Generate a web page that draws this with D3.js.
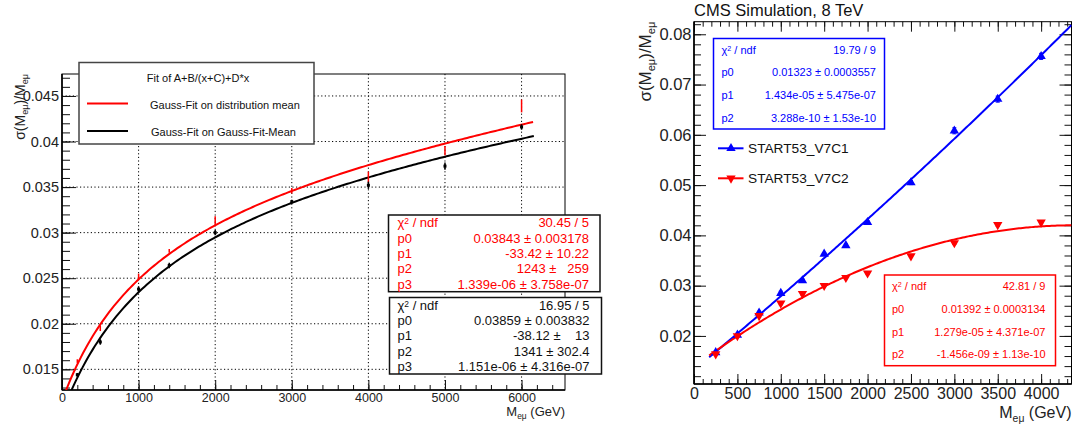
<!DOCTYPE html>
<html>
<head>
<meta charset="utf-8">
<script src="https://cdn.jsdelivr.net/npm/d3@7"></script>
<style>
  body { margin: 0; background: #fff; }
  svg text { font-family: "Liberation Sans", Arial, Helvetica, sans-serif; }
</style>
</head>
<body>
<svg id="chart" width="1073" height="425"></svg>
<script>
// ---------- left panel: resolution vs mass, two gauss-fit methods ----------
const massLeft = [200, 500, 1000, 1400, 2000, 3000, 4000, 5000, 6000];
const sigmaDistMean = [0.0159, 0.0195, 0.0252, 0.0280, 0.0313, 0.0346, 0.0361, 0.0390, 0.0439];
const errDistMean = [0.0002, 0.0003, 0.0003, 0.0002, 0.0005, 0.0003, 0.0006, 0.0005, 0.0007];
const sigmaGausMean = [0.0144, 0.0180, 0.0238, 0.0264, 0.0300, 0.0334, 0.0352, 0.0373, 0.0416];
const errGausMean = [0.0002, 0.0003, 0.0003, 0.0003, 0.0003, 0.0002, 0.0004, 0.0004, 0.0003];

// fit A+B/(x+C)+D*x, parameters as printed in the stat boxes
const fitDistMean = [0.03843, -33.42, 1243, 1.339e-06];
const fitGausMean = [0.03859, -38.12, 1341, 1.151e-06];
const statLabelsLeft = ['p0', 'p1', 'p2', 'p3'];
const statDistMean = ['30.45 / 5', '0.03843 ± 0.003178', '-33.42 ± 10.22', '1243 ±   259', '1.339e-06 ± 3.758e-07'];
const statGausMean = ['16.95 / 5', '0.03859 ± 0.003832', '-38.12 ±    13', '1341 ± 302.4', '1.151e-06 ± 4.316e-07'];
const legendLeft = ['Gauss-Fit on distribution mean', 'Gauss-Fit on Gauss-Fit-Mean'];

// ---------- right panel: START53_V7C1 vs START53_V7C2 ----------
const massRight = [250, 500, 750, 1000, 1250, 1500, 1750, 2000, 2500, 3000, 3500, 4000];
const sigmaV7C1 = [0.0167, 0.0202, 0.0246, 0.0285, 0.0310, 0.0363, 0.0380, 0.0426, 0.0505, 0.0608, 0.0671, 0.0756];
const errV7C1 = [0.0003, 0.0003, 0.0003, 0.0004, 0.0003, 0.0003, 0.0003, 0.0003, 0.0004, 0.0006, 0.0006, 0.0006];
const sigmaV7C2 = [0.0164, 0.0200, 0.0240, 0.0265, 0.0284, 0.0300, 0.0316, 0.0325, 0.0359, 0.0385, 0.0421, 0.0426];
const errV7C2 = [0.0002, 0.0002, 0.0003, 0.0003, 0.0003, 0.0002, 0.0002, 0.0003, 0.0003, 0.0003, 0.0003, 0.0003];

// fit p0 + p1*x + p2*x^2
const fitV7C1 = [0.01323, 1.434e-05, 3.288e-10];
const fitV7C2 = [0.01392, 1.279e-05, -1.456e-09];
const statLabelsRight = ['p0', 'p1', 'p2'];
const statV7C1 = ['19.79 / 9', '0.01323 ± 0.0003557', '1.434e-05 ± 5.475e-07', '3.288e-10 ± 1.53e-10'];
const statV7C2 = ['42.81 / 9', '0.01392 ± 0.0003134', '1.279e-05 ± 4.371e-07', '-1.456e-09 ± 1.13e-10'];
const legendRight = ['START53_V7C1', 'START53_V7C2'];

const RED = '#ff0000';
const BLUE = '#0000ff';

const svg = d3.select('#chart');

const makeScales = (p) => ({
  x: d3.scaleLinear().domain(p.xDomain).range([p.x0, p.x1]),
  y: d3.scaleLinear().domain(p.yDomain).range([p.y1, p.y0])
});

const drawAxes = (g, p, sx, sy, o) => {
  const strip = a => a.select('.domain').remove();
  const sides = o.allSides ? [[p.y1, d3.axisBottom], [p.y0, d3.axisTop]] : [[p.y1, d3.axisBottom]];
  sides.forEach(([yy, ax], k) => {
    g.append('g').attr('transform', `translate(0,${yy})`)
      .call(ax(sx).tickValues(o.xMinor).tickSize(-o.xMinorLen).tickFormat(''))
      .call(strip);
    const major = g.append('g').attr('transform', `translate(0,${yy})`)
      .call(ax(sx).tickValues(o.xMajor).tickSize(-o.xMajorLen).tickPadding(o.xPad)
        .tickFormat(k === 0 ? d3.format('d') : ''))
      .call(strip);
    major.selectAll('text').attr('font-family', null).style('font-size', o.xFont + 'px').attr('fill', '#222');
  });
  const vsides = o.allSides ? [[p.x0, d3.axisLeft], [p.x1, d3.axisRight]] : [[p.x0, d3.axisLeft]];
  vsides.forEach(([xx, ax], k) => {
    g.append('g').attr('transform', `translate(${xx},0)`)
      .call(ax(sy).tickValues(o.yMinor).tickSize(-o.yMinorLen).tickFormat(''))
      .call(strip);
    const major = g.append('g').attr('transform', `translate(${xx},0)`)
      .call(ax(sy).tickValues(o.yMajor).tickSize(-o.yMajorLen).tickPadding(o.yPad)
        .tickFormat(k === 0 ? (d => +d.toFixed(3) + '') : ''))
      .call(strip);
    major.selectAll('text').attr('font-family', null).style('font-size', o.yFont + 'px').attr('fill', '#222');
  });
  g.selectAll('.tick line').attr('stroke', '#111').attr('stroke-width', 1);
  // frame
  g.append('rect')
    .attr('x', p.x0).attr('y', p.y0)
    .attr('width', p.x1 - p.x0).attr('height', p.y1 - p.y0)
    .attr('fill', 'none').attr('stroke', '#000').attr('stroke-width', 1);
  g.append('line').attr('x1', p.x0).attr('x2', p.x0).attr('y1', p.y0).attr('y2', p.y1)
    .attr('stroke', '#000').attr('stroke-width', 1.6);
  g.append('line').attr('x1', p.x0).attr('x2', p.x1).attr('y1', p.y1).attr('y2', p.y1)
    .attr('stroke', '#000').attr('stroke-width', 1.6);
};

// text with subscript, e.g. sigma(M_emu)/M_emu
const massLabel = (t, withSigma) => {
  const sub = (s) => t.append('tspan').attr('baseline-shift', '-35%').style('font-size', '65%').text(s);
  if (withSigma) {
    t.append('tspan').text('σ(M');
    sub('eμ');
    t.append('tspan').text(')/M');
    sub('eμ');
  } else {
    t.append('tspan').text('M');
    sub('eμ');
    t.append('tspan').text(' (GeV)');
  }
};

const drawStatBox = (g, box, labels, values, color, fontSize, opts) => {
  g.append('rect')
    .attr('x', box.x).attr('y', box.y).attr('width', box.w).attr('height', box.h)
    .attr('fill', '#fff').attr('stroke', opts.stroke || color).attr('stroke-width', opts.sw || 1.5);
  const n = values.length;
  const rowH = box.h / n;
  values.forEach((v, i) => {
    const cy = box.y + (i + 0.5) * rowH;
    const lab = g.append('text')
      .attr('x', box.x + opts.padL).attr('y', cy).attr('dy', '0.36em')
      .attr('fill', color).style('font-size', fontSize + 'px');
    if (i === 0) {
      lab.append('tspan').text('χ');
      lab.append('tspan').attr('baseline-shift', '40%').style('font-size', '65%').text('2');
      lab.append('tspan').text(' / ndf');
    } else {
      lab.text(labels[i - 1]);
    }
    g.append('text')
      .attr('x', box.x + box.w - opts.padR).attr('y', cy).attr('dy', '0.36em')
      .attr('text-anchor', 'end').attr('fill', color)
      .style('font-size', fontSize + 'px').style('white-space', 'pre')
      .attr('xml:space', 'preserve')
      .text(v);
  });
};

const drawErrorPoints = (g, sx, sy, xs, ys, es, color, marker) => {
  xs.forEach((x, i) => {
    g.append('line')
      .attr('x1', sx(x)).attr('x2', sx(x))
      .attr('y1', sy(ys[i] - es[i])).attr('y2', sy(ys[i] + es[i]))
      .attr('stroke', color).attr('stroke-width', 1.5);
    if (marker === 'square') {
      g.append('rect').attr('x', sx(x) - 1.5).attr('y', sy(ys[i]) - 1.5)
        .attr('width', 3).attr('height', 3).attr('fill', color);
    } else if (marker === 'up' || marker === 'down') {
      [ys[i] - es[i], ys[i] + es[i]].forEach(v => {
        g.append('line')
          .attr('x1', sx(x) - 2).attr('x2', sx(x) + 2)
          .attr('y1', sy(v)).attr('y2', sy(v))
          .attr('stroke', color).attr('stroke-width', 1);
      });
      g.append('path')
        .attr('d', d3.symbol(d3.symbolTriangle).size(38)())
        .attr('transform', `translate(${sx(x)},${sy(ys[i])})${marker === 'down' ? 'rotate(180)' : ''}`)
        .attr('fill', color);
    }
  });
};

const drawFit = (g, sx, sy, f, range, color, clipId) => {
  const xs = d3.range(range[0], range[1] + 1, (range[1] - range[0]) / 200);
  g.append('path')
    .datum(xs)
    .attr('clip-path', `url(#${clipId})`)
    .attr('fill', 'none').attr('stroke', color).attr('stroke-width', 2)
    .attr('d', d3.line().x(d => sx(d)).y(d => sy(f(d))));
};

const addClip = (id, p) => {
  svg.append('clipPath').attr('id', id)
    .append('rect').attr('x', p.x0).attr('y', p.y0)
    .attr('width', p.x1 - p.x0).attr('height', p.y1 - p.y0);
};

// ================= LEFT PANEL =================
const pL = { x0: 62, x1: 565, y0: 74, y1: 390, xDomain: [0, 6567], yDomain: [0.01273, 0.04741] };
const sL = makeScales(pL);
const gL = svg.append('g');
addClip('clipL', pL);

// dotted grid
const xMajorL = d3.range(0, 6001, 1000);
const yMajorL = [0.015, 0.02, 0.025, 0.03, 0.035, 0.04, 0.045];
gL.append('g').selectAll('line').data(xMajorL.slice(1)).join('line')
  .attr('x1', d => sL.x(d)).attr('x2', d => sL.x(d)).attr('y1', pL.y0).attr('y2', pL.y1)
  .attr('stroke', '#000').attr('stroke-dasharray', '1.2,2.4').attr('stroke-width', 1);
gL.append('g').selectAll('line').data(yMajorL).join('line')
  .attr('x1', pL.x0).attr('x2', pL.x1).attr('y1', d => sL.y(d)).attr('y2', d => sL.y(d))
  .attr('stroke', '#000').attr('stroke-dasharray', '1.2,2.4').attr('stroke-width', 1);

drawAxes(gL, pL, sL.x, sL.y, {
  xMajor: xMajorL, xMinor: d3.range(0, 6567, 200), xMajorLen: 10, xMinorLen: 5, xPad: 3, xFont: 12.5,
  yMajor: yMajorL, yMinor: d3.range(13, 48).map(d => d / 1000), yMajorLen: 14, yMinorLen: 8, yPad: 3, yFont: 14.5
});

const fitFnL = q => x => q[0] + q[1] / (x + q[2]) + q[3] * x;
drawFit(gL, sL.x, sL.y, fitFnL(fitDistMean), [0, 6150], RED, 'clipL');
drawFit(gL, sL.x, sL.y, fitFnL(fitGausMean), [0, 6160], '#000', 'clipL');
drawErrorPoints(gL, sL.x, sL.y, massLeft, sigmaDistMean, errDistMean, RED, 'none');
drawErrorPoints(gL, sL.x, sL.y, massLeft, sigmaGausMean, errGausMean, '#000', 'square');

// axis titles
const yTitleL = gL.append('text')
  .attr('transform', `translate(25,${pL.y0}) rotate(-90)`)
  .attr('text-anchor', 'end').attr('fill', '#222').style('font-size', '14px');
massLabel(yTitleL, true);
const xTitleL = gL.append('text')
  .attr('x', pL.x1).attr('y', 416).attr('text-anchor', 'end')
  .attr('fill', '#222').style('font-size', '13px');
massLabel(xTitleL, false);

// legend box
const legL = gL.append('g');
legL.append('rect').attr('x', 79).attr('y', 62.5).attr('width', 235).attr('height', 81.5)
  .attr('fill', '#fff').attr('stroke', '#444').attr('stroke-width', 1.5);
legL.append('text').attr('x', 198).attr('y', 78).attr('dy', '0.36em').attr('text-anchor', 'middle')
  .attr('fill', '#111').style('font-size', '11px').text('Fit of A+B/(x+C)+D*x');
[[RED, 103.5], ['#000', 131]].forEach(([c, yy], i) => {
  legL.append('line').attr('x1', 87).attr('x2', 128).attr('y1', yy).attr('y2', yy)
    .attr('stroke', c).attr('stroke-width', 2);
  legL.append('text').attr('x', 150 + i).attr('y', yy + 1.5).attr('dy', '0.36em')
    .attr('fill', '#111').style('font-size', '11px').text(legendLeft[i]);
});

// stat boxes
drawStatBox(gL, { x: 388.5, y: 215, w: 211.5, h: 76.7 }, statLabelsLeft, statDistMean, RED, 13,
  { padL: 9, padR: 11, stroke: '#111', sw: 1.5 });
drawStatBox(gL, { x: 389.5, y: 297.5, w: 212, h: 76.5 }, statLabelsLeft, statGausMean, '#111', 13,
  { padL: 8, padR: 12, stroke: '#111', sw: 1.5 });

// ================= RIGHT PANEL =================
const pR = { x0: 694, x1: 1071.5, y0: 21.7, y1: 384, xDomain: [0, 4350], yDomain: [0.01044, 0.0825] };
const sR = makeScales(pR);
const gR = svg.append('g');
addClip('clipR', pR);

drawAxes(gR, pR, sR.x, sR.y, {
  allSides: true,
  xMajor: d3.range(0, 4001, 500), xMinor: d3.range(0, 4351, 100), xMajorLen: 10, xMinorLen: 5, xPad: 3.5, xFont: 16,
  yMajor: [0.02, 0.03, 0.04, 0.05, 0.06, 0.07, 0.08], yMinor: d3.range(6, 42).map(d => d / 500),
  yMajorLen: 12, yMinorLen: 7, yPad: 2.5, yFont: 16.5
});

const fitFnR = q => x => q[0] + q[1] * x + q[2] * x * x;
drawFit(gR, sR.x, sR.y, fitFnR(fitV7C1), [175, 4350], BLUE, 'clipR');
drawFit(gR, sR.x, sR.y, fitFnR(fitV7C2), [175, 4350], RED, 'clipR');
drawErrorPoints(gR, sR.x, sR.y, massRight, sigmaV7C1, errV7C1, BLUE, 'up');
drawErrorPoints(gR, sR.x, sR.y, massRight, sigmaV7C2, errV7C2, RED, 'down');

gR.append('text').attr('x', pR.x0).attr('y', 16).attr('fill', '#111')
  .style('font-size', '16.5px').text('CMS Simulation, 8 TeV');

const yTitleR = gR.append('text')
  .attr('transform', `translate(651,${pR.y0}) rotate(-90)`)
  .attr('text-anchor', 'end').attr('fill', '#222').style('font-size', '17px');
massLabel(yTitleR, true);
const xTitleR = gR.append('text')
  .attr('x', pR.x1).attr('y', 418).attr('text-anchor', 'end')
  .attr('fill', '#222').style('font-size', '16px');
massLabel(xTitleR, false);

drawStatBox(gR, { x: 713.5, y: 38.5, w: 171, h: 90.5 }, statLabelsRight, statV7C1, BLUE, 11,
  { padL: 8, padR: 8.5, sw: 1.5 });
drawStatBox(gR, { x: 884.5, y: 275, w: 171, h: 90.7 }, statLabelsRight, statV7C2, RED, 11,
  { padL: 7.5, padR: 10, sw: 1.5 });

// legend
[[BLUE, 148.3, 'up'], [RED, 178.3, 'down']].forEach(([c, yy, m], i) => {
  gR.append('line').attr('x1', 718).attr('x2', 743.5).attr('y1', yy).attr('y2', yy)
    .attr('stroke', c).attr('stroke-width', 2);
  gR.append('path')
    .attr('d', d3.symbol(d3.symbolTriangle).size(38)())
    .attr('transform', `translate(731,${yy})${m === 'down' ? 'rotate(180)' : ''}`)
    .attr('fill', c);
  gR.append('text').attr('x', 748).attr('y', yy).attr('dy', '0.36em')
    .attr('fill', '#111').style('font-size', '13.7px').text(legendRight[i]);
});
</script>
</body>
</html>
